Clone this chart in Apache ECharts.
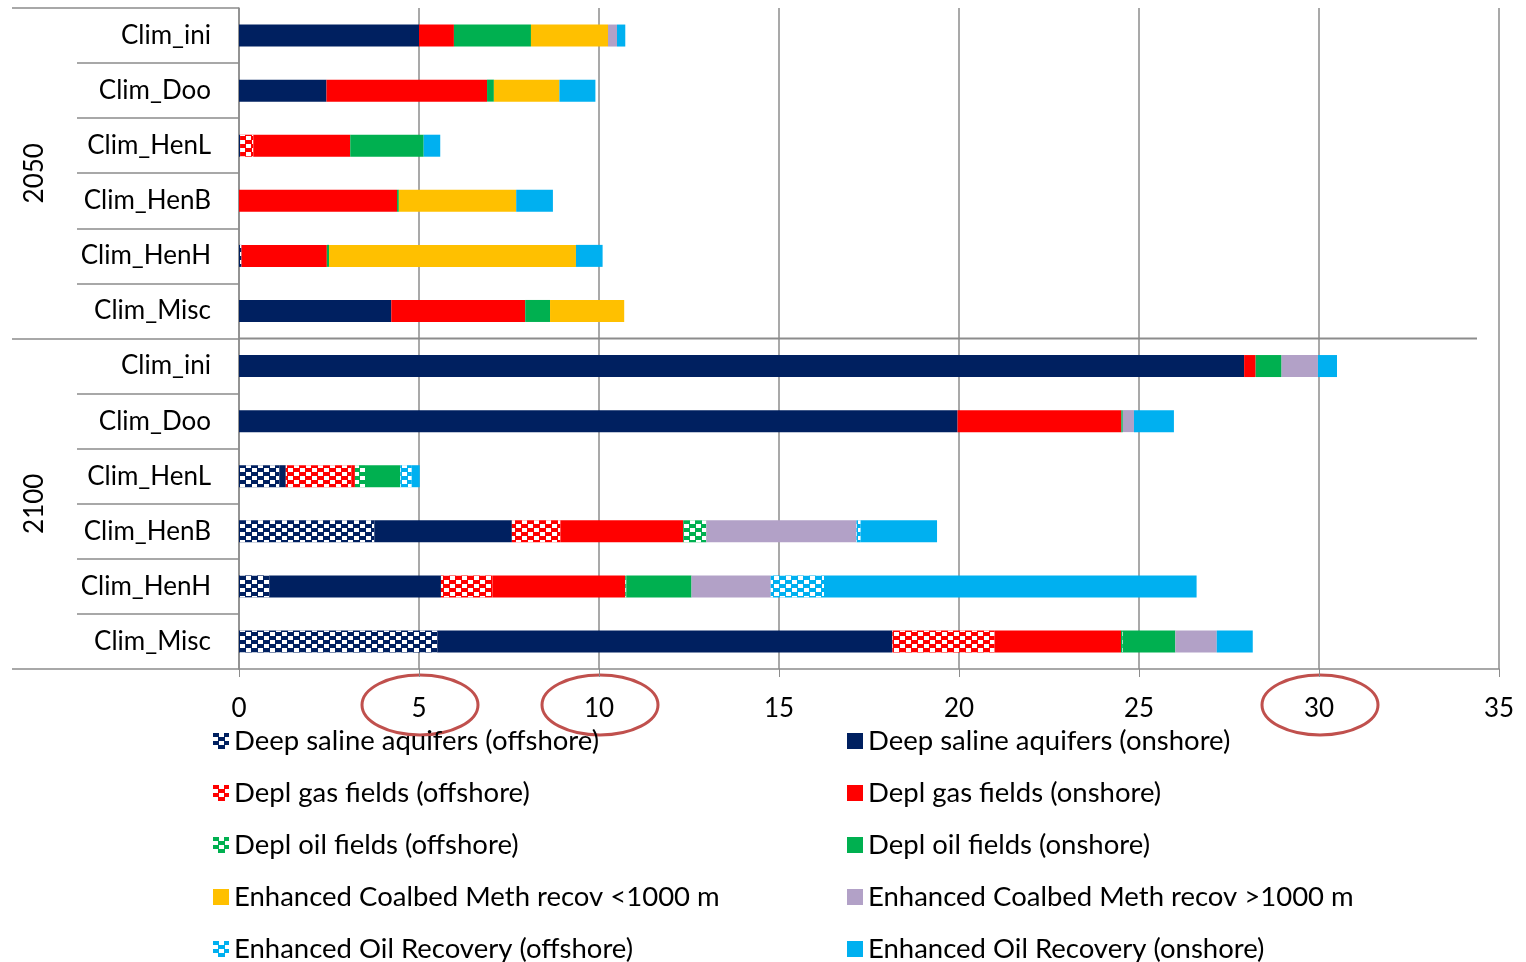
<!DOCTYPE html>
<html>
<head>
<meta charset="utf-8">
<title>CO2 storage by scenario</title>
<script src="https://cdn.jsdelivr.net/npm/echarts@6/dist/echarts.min.js"></script>
<style>
  html, body { margin: 0; padding: 0; background: #fff; }
  #chart { width: 1526px; height: 962px; }
</style>
</head>
<body>
<div id="chart"></div>
<script>
// categories (two levels: period, scenario)
const periods = ['2050', '2100'];
const scenarios = ['Clim_ini', 'Clim_Doo', 'Clim_HenL', 'Clim_HenB', 'Clim_HenH', 'Clim_Misc'];
const xTicks = [0, 5, 10, 15, 20, 25, 30, 35];
const circledTicks = [5, 10, 30];

// series values, rows: 2050 x 6 scenarios, then 2100 x 6 scenarios
const salineOff = [0, 0, 0.03, 0, 0.07, 0, 0, 0, 1.12, 3.76, 0.84, 5.51];
const salineOn  = [5.0, 2.43, 0, 0, 0, 4.23, 27.92, 19.96, 0.18, 3.82, 4.77, 12.64];
const gasOff    = [0, 0, 0.37, 0, 0, 0, 0, 0, 1.82, 1.35, 1.43, 2.84];
const gasOn     = [0.97, 4.46, 2.69, 4.39, 2.37, 3.72, 0.32, 4.55, 0.10, 3.41, 3.69, 3.51];
const oilOff    = [0, 0, 0, 0, 0, 0, 0, 0, 0.28, 0.64, 0.03, 0.05];
const oilOn     = [2.14, 0.19, 2.04, 0.05, 0.06, 0.69, 0.72, 0.04, 0.98, 0, 1.81, 1.46];
const ecbmLow   = [2.14, 1.82, 0, 3.26, 6.86, 2.06, 0, 0, 0, 0, 0, 0];
const ecbmHigh  = [0.25, 0, 0, 0, 0, 0, 1.01, 0.31, 0, 4.17, 2.20, 1.15];
const eorOff    = [0, 0, 0, 0, 0, 0, 0, 0, 0.32, 0.12, 1.48, 0];
const eorOn     = [0.23, 1.0, 0.46, 1.02, 0.74, 0, 0.53, 1.11, 0.22, 2.12, 10.35, 1.0];

const rowIds = [];
periods.forEach(p => scenarios.forEach(s => rowIds.push(p + '|' + s)));

const FONT = 'Lato';
const GRID_GRAY = '#8c8c8c';

// checker pattern for the offshore series
function offshore(color) {
  return {
    color: color,
    decal: {
      symbol: 'rect',
      symbolSize: 1,
      color: '#ffffff',
      dashArrayX: [[5, 7], [0, 6, 5, 1]],
      dashArrayY: [4, 0]
    }
  };
}

const seriesDefs = [
  {name: 'Deep saline aquifers (offshore)', data: salineOff, style: offshore('#002060')},
  {name: 'Deep saline aquifers (onshore)', data: salineOn, style: {color: '#002060'}},
  {name: 'Depl gas fields (offshore)', data: gasOff, style: offshore('#ff0000')},
  {name: 'Depl gas fields (onshore)', data: gasOn, style: {color: '#ff0000'}},
  {name: 'Depl oil fields (offshore)', data: oilOff, style: offshore('#00b050')},
  {name: 'Depl oil fields (onshore)', data: oilOn, style: {color: '#00b050'}},
  {name: 'Enhanced Coalbed Meth recov <1000 m', data: ecbmLow, style: {color: '#ffc000'}},
  {name: 'Enhanced Coalbed Meth recov >1000 m', data: ecbmHigh, style: {color: '#b2a1c7'}},
  {name: 'Enhanced Oil Recovery (offshore)', data: eorOff, style: offshore('#00b0f0')},
  {name: 'Enhanced Oil Recovery (onshore)', data: eorOn, style: {color: '#00b0f0'}}
];

const chart = echarts.init(document.getElementById('chart'), null, {renderer: 'canvas'});

const legendText = {fontFamily: FONT, fontSize: 27.5, color: '#000'};

chart.setOption({
  animation: false,
  textStyle: {fontFamily: FONT},
  grid: {left: 239, right: 27, top: 8, bottom: 293},
  legend: [
    {
      orient: 'vertical', left: 213, top: 727, itemGap: 24, padding: 0, height: 320,
      icon: 'rect', itemWidth: 16, itemHeight: 16, textStyle: legendText,
      data: seriesDefs.filter((d, i) => i % 2 === 0).map(d => d.name)
    },
    {
      orient: 'vertical', left: 847, top: 727, itemGap: 24, padding: 0, height: 320,
      icon: 'rect', itemWidth: 16, itemHeight: 16, textStyle: legendText,
      data: seriesDefs.filter((d, i) => i % 2 === 1).map(d => d.name)
    }
  ],
  xAxis: {
    type: 'value',
    min: 0, max: 35, interval: 5,
    axisLine: {show: true, lineStyle: {color: GRID_GRAY, width: 1.5}},
    axisTick: {show: true, length: 8, lineStyle: {color: GRID_GRAY}},
    axisLabel: {
      margin: 27, fontSize: 26, color: '#000', fontFamily: FONT,
      formatter: v => (xTicks.indexOf(v) >= 0 ? String(v) : '')
    },
    splitLine: {show: true, lineStyle: {color: GRID_GRAY, width: 1.5}}
  },
  yAxis: [
    {
      type: 'category',
      data: rowIds,
      inverse: true,
      axisLine: {show: true, lineStyle: {color: GRID_GRAY, width: 1.5}},
      axisTick: {show: true, length: 162, lineStyle: {color: GRID_GRAY, width: 1.5}},
      axisLabel: {
        margin: 28, fontSize: 26, color: '#000', fontFamily: FONT,
        formatter: v => v.split('|')[1]
      },
      splitLine: {show: false}
    },
    {
      type: 'category',
      data: periods,
      inverse: true,
      position: 'left',
      offset: 227,
      axisLine: {show: false},
      axisTick: {show: true, inside: true, length: 227, lineStyle: {color: GRID_GRAY, width: 1.5}},
      axisLabel: {
        inside: true, rotate: 90, margin: 10,
        fontSize: 26, color: '#000', fontFamily: FONT
      },
      splitLine: {show: false}
    }
  ],
  series: seriesDefs.map(d => ({
    name: d.name,
    type: 'bar',
    stack: 'total',
    yAxisIndex: 0,
    barWidth: 22,
    itemStyle: d.style,
    data: d.data
  }))
});

// annotations: period divider and the circled tick labels
const divY = (chart.convertToPixel({yAxisIndex: 0}, rowIds[5]) + chart.convertToPixel({yAxisIndex: 0}, rowIds[6])) / 2;
const x0 = chart.convertToPixel({xAxisIndex: 0}, 0);
const axisY = chart.convertToPixel({yAxisIndex: 0}, rowIds[11]) + 27.5;

const graphics = [{
  type: 'line',
  shape: {x1: x0, y1: divY, x2: 1477, y2: divY},
  style: {stroke: GRID_GRAY, lineWidth: 2}
}];
circledTicks.forEach(v => {
  const cx = chart.convertToPixel({xAxisIndex: 0}, v);
  graphics.push({
    type: 'ellipse',
    shape: {cx: cx + 1, cy: axisY + 36, rx: 58, ry: 30},
    style: {fill: null, stroke: '#c0504d', lineWidth: 3}
  });
});
chart.setOption({graphic: graphics});
</script>
</body>
</html>
